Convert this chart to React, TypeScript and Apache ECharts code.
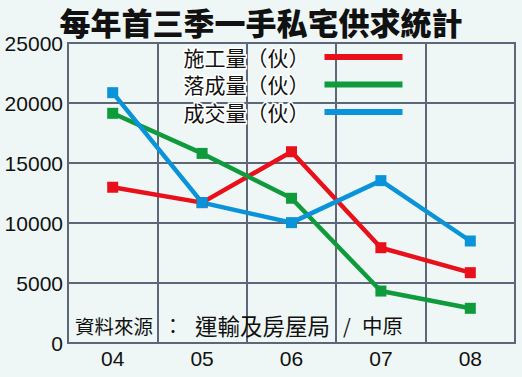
import React, { useEffect, useRef } from "react";
import * as echarts from "echarts";

const categories = ["04", "05", "06", "07", "08"];
const startedUnits = [12980, 11700, 15940, 7940, 5860];
const completedUnits = [19140, 15800, 12060, 4330, 2890];
const soldUnits = [20860, 11700, 10030, 13530, 8500];
const seriesNames = ["施工量（伙）", "落成量（伙）", "成交量（伙）"];
const titleText = "每年首三季一手私宅供求統計";
const sourceParts = ["資料來源", "：", "運輸及房屋局", "/", "中原"];

const RED = "#e8101a";
const GREEN = "#0f9b3b";
const BLUE = "#0a93d8";
const GRID = "#5e6777";
const BG = "#eef7f5";

export default function App() {
  const ref = useRef<HTMLDivElement>(null);
  useEffect(() => {
    if (!ref.current) return;
    const chart = echarts.init(ref.current, null, { renderer: "svg" });
    const mk = (name: string, data: number[], color: string) => ({
      name,
      type: "line",
      data,
      symbol: "rect",
      symbolSize: 11,
      lineStyle: { color, width: 4.5 },
      itemStyle: { color },
      z: 3,
    });
    const srcStyle = (text: string, size: number) => ({
      text,
      fontFamily: "Noto Sans CJK TC",
      fontSize: size,
      fill: "#111",
    });
    const srcX = [75, 163, 195, 343, 362];
    const srcSize = [19.5, 20, 22.5, 20, 20.5];
    chart.setOption({
      animation: false,
      backgroundColor: BG,
      legend: {
        orient: "vertical",
        left: 177,
        top: 40,
        align: "right",
        icon: "rect",
        itemWidth: 78,
        itemHeight: 6,
        itemGap: 3.5,
        textStyle: {
          fontFamily: "Noto Sans CJK TC",
          fontSize: 21,
          color: "#111",
          textBorderColor: "#ffffff",
          textBorderWidth: 3,
          padding: [0, 10, 0, 0],
        },
        data: seriesNames,
      },
      grid: {
        left: 68,
        right: 7,
        top: 43,
        bottom: 34,
        show: true,
        borderColor: GRID,
        borderWidth: 2,
      },
      xAxis: {
        type: "category",
        data: categories,
        boundaryGap: true,
        axisLine: { lineStyle: { color: GRID, width: 2 } },
        axisTick: { show: false },
        axisLabel: {
          fontFamily: "Liberation Sans",
          fontSize: 21,
          color: "#111",
          margin: 5,
        },
        splitLine: { show: true, lineStyle: { color: GRID, width: 2 } },
      },
      yAxis: {
        type: "value",
        min: 0,
        max: 25000,
        interval: 5000,
        axisLine: { show: true, lineStyle: { color: GRID, width: 2 } },
        axisTick: { show: false },
        axisLabel: {
          fontFamily: "Liberation Sans",
          fontSize: 21,
          color: "#111",
          margin: 5,
          formatter: (v: number) => String(v),
        },
        splitLine: { show: true, lineStyle: { color: GRID, width: 2 } },
      },
      graphic: [
        {
          type: "text",
          x: 261,
          y: 21,
          z: 10,
          style: {
            text: titleText,
            fontFamily: "Noto Sans CJK TC",
            fontWeight: 900,
            fontSize: 31,
            fill: "#111",
            align: "center",
            verticalAlign: "middle",
          },
        },
        ...sourceParts.map((t, i) => ({
          type: "text",
          x: srcX[i],
          y: 325,
          z: 10,
          style: { ...srcStyle(t, srcSize[i]), verticalAlign: "middle" },
        })),
      ],
      series: [
        mk(seriesNames[0], startedUnits, RED),
        mk(seriesNames[1], completedUnits, GREEN),
        mk(seriesNames[2], soldUnits, BLUE),
      ],
    });
    return () => chart.dispose();
  }, []);
  return (
    <div
      ref={ref}
      style={{ position: "fixed", left: 0, top: 0, width: 522, height: 377 }}
    />
  );
}
